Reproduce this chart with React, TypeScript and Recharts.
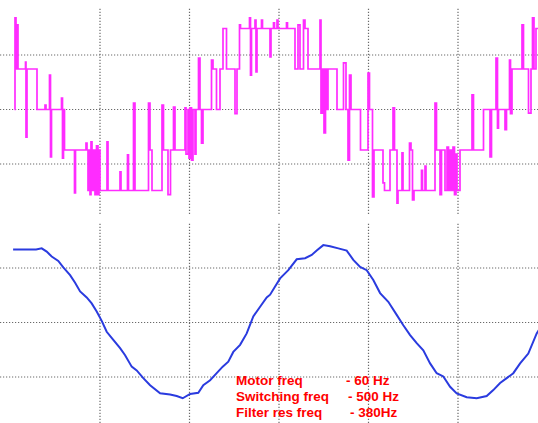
import { LineChart, Line, XAxis, YAxis, ReferenceLine } from 'recharts';

// time axis in ms, one scope division = 4.475 ms
const gridTimes = [4.475, 8.95, 13.425, 17.9, 22.375];
const pwmGridLevels = [-1.346, 0, 1.346];
const filtGridVolts = [-1, 0, 1];

// inverter output, in converter levels (-2 .. 2), stepped
const pwmTime = [
  0.2, 0.225, 0.275, 0.325, 0.375, 0.75, 0.775, 0.825, 1.325, 1.725, 1.775, 1.95, 2.0, 2.05,
  2.55, 2.6, 2.65, 2.7, 3.2, 3.25, 3.775, 3.825, 3.875, 3.925, 3.975, 4.025, 4.075, 4.15,
  4.225, 4.3, 4.375, 4.425, 4.475, 4.825, 4.875, 5.475, 5.525, 5.85, 5.9, 6.15, 6.225, 6.9,
  6.975, 7.075, 7.575, 7.65, 7.875, 8.0, 8.15, 8.225, 8.725, 8.775, 8.875, 8.925, 8.975, 9.05,
  9.125, 9.225, 9.275, 9.4, 9.475, 9.55, 9.625, 10.05, 10.125, 10.3, 10.475, 10.625, 10.8,
  11.225, 11.325, 11.45, 11.5, 11.95, 12.0, 12.05, 12.225, 12.275, 12.325, 12.55, 12.6,
  12.975, 13.025, 13.15, 13.2, 13.325, 13.375, 13.8, 13.85, 14.225, 14.375, 14.475, 14.65,
  14.725, 14.875, 15.475, 15.525, 15.6, 15.675, 15.75, 15.825, 15.875, 16.325, 16.65, 16.775,
  16.875, 16.95, 17.025, 17.5, 17.875, 17.95, 18.1, 18.175, 18.625, 18.7, 18.975, 19.125,
  19.2, 19.325, 19.375, 19.575, 19.625, 19.95, 20.025, 20.1, 20.175, 20.55, 20.6, 20.725,
  20.775, 21.225, 21.3, 21.475, 21.55, 21.725, 21.825, 21.9, 21.975, 22.05, 22.125, 22.2,
  22.275, 22.325, 22.475, 23.075, 23.15, 23.65, 23.975, 24.05, 24.275, 24.35, 24.4, 24.725,
  24.8, 24.95, 25.0, 25.075, 25.575, 25.65, 25.9, 26.025, 26.1, 26.175, 26.275, 26.475,
];
const pwmLevel = [
  0, 2.26, 1, 2.09, 1, 1.17, -0.68, 1, 0, 0.11, 0, 0.85, -1.17, 0,
  0.28, -1.2, 0, -1, -2.06, -1, -0.83, -1, -2, -1, -2.1, -0.8, -2, -1,
  -2.1, -0.9, -2.1, -1, -2, -0.8, -2, -1.54, -2, -1.12, -2, 0.16, -2, 0.16,
  -1, -2, 0.11, -1, -2.1, -1, 0.06, -1, 0.04, -1.1, 0, -1.2, 0.04, -1.25,
  0, -1.1, 0, 1.27, 0, -0.83, 0, 1.22, 1, 0, 1, 2, 1,
  -0.1, 1, 2.09, 2, 2.26, 0.85, 2, 2.21, 0.93, 2, 2.21, 2,
  1.3, 2, 2.14, 2, 2.21, 2, 2.14, 2, 1, 2.09, 1, 2.21,
  2, 1, 2.21, -0.09, 1, -0.58, 1, 0, 1, 0, 1.15, 0,
  -1.25, 0.85, 0, -1, 0.9, 0, -2.16, -1, -1.81, -2, -1, 0.04,
  -1, -2.31, -2, -1.07, -2, -0.83, -1, -2.23, -2, -1.5, -2, -1.4,
  -2, 0.16, -1, -2.1, -1, -2, -0.93, -2, -1, -2, -0.93, -2.1,
  -1.1, -2, -1, 0.36, -1, 0, -1.17, 0, 1.27, -0.46, 0, -0.5,
  0, 1.22, -0.1, 1, 2.09, 1, -0.09, 1, 2.26, 1, 2, 2,
];

// filtered motor voltage, in divisions
const filtTime = [
  0.13, 1.28, 1.56, 1.81, 2.06, 2.39, 2.64, 2.98, 3.23, 3.48, 3.81, 4.06, 4.31, 4.56, 4.81,
  5.14, 5.48, 5.73, 6.06, 6.31, 6.64, 6.98, 7.48, 7.98, 8.31, 8.61, 8.98, 9.39, 9.64, 9.98,
  10.31, 10.61, 10.89, 11.14, 11.48, 11.81, 12.14, 12.48, 12.81, 12.98, 13.23, 13.48, 13.89,
  14.31, 14.73, 15.06, 15.31, 15.64, 15.98, 16.39, 16.81, 17.14, 17.48, 17.81, 18.14, 18.48,
  18.89, 19.31, 19.64, 19.98, 20.31, 20.64, 20.98, 21.31, 21.64, 21.98, 22.31, 22.81, 23.31,
  23.81, 24.14, 24.48, 24.81, 25.14, 25.48, 25.89, 26.31, 26.48,
];
const filtVolts = [
  1.34, 1.34, 1.36, 1.3, 1.21, 1.13, 1.01, 0.87, 0.73, 0.57, 0.46, 0.35, 0.2, 0.03, -0.17,
  -0.32, -0.47, -0.6, -0.81, -0.88, -1.02, -1.15, -1.3, -1.32, -1.35, -1.39, -1.31, -1.29, -1.15, -1.06,
  -0.93, -0.81, -0.72, -0.54, -0.41, -0.2, 0.11, 0.29, 0.46, 0.51, 0.66, 0.81, 0.96,
  1.16, 1.18, 1.24, 1.32, 1.42, 1.4, 1.36, 1.32, 1.15, 1.02, 0.96, 0.78, 0.54,
  0.38, 0.14, -0.05, -0.23, -0.38, -0.51, -0.75, -0.93, -0.99, -1.18, -1.3, -1.37, -1.39,
  -1.35, -1.24, -1.11, -1.02, -0.93, -0.75, -0.57, -0.2, -0.1,
];

const noteLabels = ['Motor freq', 'Switching freq', 'Filter res freq'];
const noteValues = ['- 60 Hz', '- 500 Hz', '- 380Hz'];

const pwmData = pwmTime.map((t, i) => ({ t, v: pwmLevel[i] }));
const filtData = filtTime.map((t, i) => ({ t, v: filtVolts[i] }));

const X_DOMAIN: [number, number] = [-0.525, 26.375];
const GRID = '#6a6a6a';
const FONT = 'Liberation Sans, Arial, sans-serif';

function gridLines(yValues: number[]) {
  return [
    ...gridTimes.map((x) => (
      <ReferenceLine key={'x' + x} x={x} stroke={GRID} strokeWidth={1.2} strokeDasharray="1.2 1.8" />
    )),
    ...yValues.map((y) => (
      <ReferenceLine key={'y' + y} y={y} stroke={GRID} strokeWidth={1.2} strokeDasharray="1.2 1.8" />
    )),
  ];
}

export default function App() {
  return (
    <div style={{ position: 'absolute', left: 0, top: 0, width: 538, height: 423, background: '#fff', overflow: 'hidden' }}>
      <div style={{ position: 'absolute', left: 0, top: 0 }}>
        <LineChart width={538} height={218} data={pwmData} margin={{ top: 8, right: 0, bottom: 4, left: 0 }}>
          <XAxis dataKey="t" type="number" domain={X_DOMAIN} allowDataOverflow hide />
          <YAxis type="number" domain={[-2.58, 2.506]} allowDataOverflow hide />
          {gridLines(pwmGridLevels)}
          <Line type="stepAfter" dataKey="v" stroke="#ff2cff" strokeWidth={1.7} dot={false} isAnimationActive={false} />
        </LineChart>
      </div>
      <div style={{ position: 'absolute', left: 0, top: 222 }}>
        <LineChart width={538} height={201} data={filtData} margin={{ top: 0, right: 0, bottom: 0, left: 0 }}>
          <XAxis dataKey="t" type="number" domain={X_DOMAIN} allowDataOverflow hide />
          <YAxis type="number" domain={[-1.844, 1.844]} allowDataOverflow hide />
          {gridLines(filtGridVolts)}
          <Line type="linear" dataKey="v" stroke="#2a3bdf" strokeWidth={2} dot={false} isAnimationActive={false} />
        </LineChart>
      </div>
      <svg width={538} height={423} style={{ position: 'absolute', left: 0, top: 0 }}>
        {noteLabels.map((s, i) => (
          <text key={s} x={236} y={385 + i * 16} fill="#ff0000" fontFamily={FONT} fontSize={13.5} fontWeight="bold">
            {s}
          </text>
        ))}
        {noteValues.map((s, i) => (
          <text key={s} x={346 + i * 2} y={385 + i * 16} fill="#ff0000" fontFamily={FONT} fontSize={13.5} fontWeight="bold" style={{ whiteSpace: 'pre' }}>
            {s}
          </text>
        ))}
      </svg>
    </div>
  );
}
